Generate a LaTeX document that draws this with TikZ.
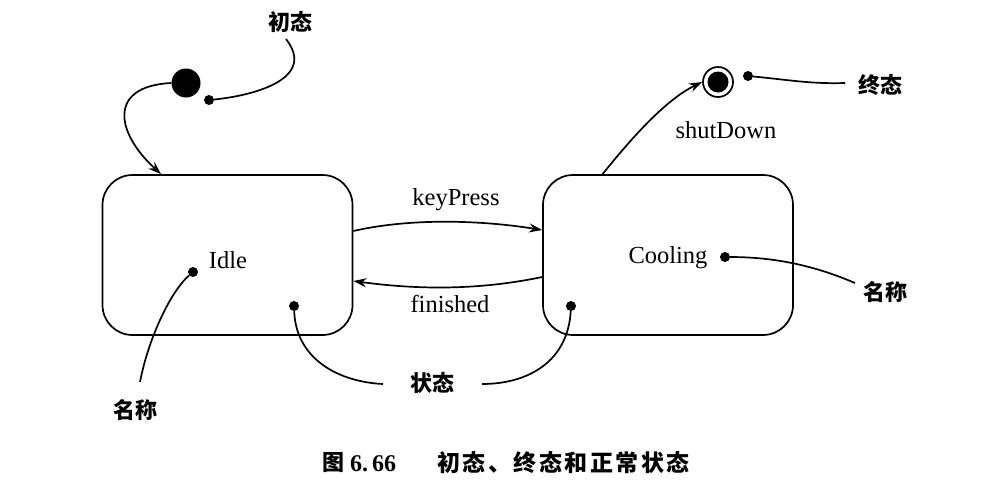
\documentclass[tikz,border=0pt]{standalone}
\usepackage{fontspec}
\setmainfont{Liberation Serif}
\newfontfamily\cjk{Noto Sans CJK SC}
\newfontfamily\cjkcap{Noto Sans CJK SC}[LetterSpace=11]
\usetikzlibrary{arrows.meta,calc}
\tikzset{
  statebox/.style={draw, line width=1.7pt, rounded corners=30pt, minimum width=250pt, minimum height=160pt, inner sep=0pt},
  dotnode/.style={circle, fill, minimum size=10pt, inner sep=0pt},
  nametext/.style={font=\fontsize{24.5}{26}\selectfont, inner sep=0pt},
  cnlabel/.style={font=\cjk\bfseries\fontsize{22}{24}\selectfont, inner sep=2pt},
  conn/.style={line width=1.7pt},
  trans/.style={line width=1.7pt, -{Stealth[length=13pt,width=9pt]}}
}
\begin{document}
\begin{tikzpicture}[x=1pt,y=-1pt]
\useasboundingbox[fill=white] (0,0) rectangle (1008,499);

% states
\node[statebox] (idle) at (227.5,255) {};
\node[statebox] (cool) at (668,255) {};
\node[nametext] (idlename) at (228,260) {Idle};
\node[nametext] (coolname) at (668,258) {Cooling};

% initial and final
\node[circle, fill, minimum size=29pt, inner sep=0pt] (init) at (186,83) {};
\node[circle, draw, line width=1.7pt, minimum size=30pt, inner sep=0pt] (final) at (718,82) {};
\node[circle, fill, minimum size=21pt, inner sep=0pt] (finalin) at (final) {};
\node[nametext] (shutname) at (726,130) {shutDown};

% transitions
\draw[trans] (init.west) .. controls (108,86) and (115,132) .. ($(idle.north west)!0.236!(idle.north east)$);
\draw[trans] (idle.east |- 0,231) .. controls (410,218) and (480,220) .. (cool.west |- 0,230);
\draw[trans] (cool.west |- 0,277) .. controls (480,290) and (420,290) .. (idle.east |- 0,281);
\draw[trans] ($(cool.north west)!0.24!(cool.north east)$) .. controls (630,140) and (665,100) .. (final.west);
\node[nametext] (kp) at (456,200) {keyPress};
\node[nametext] (fin) at (450,304) {finished};

% annotation labels
\node[cnlabel] (lchu) at (290,22) {初态};
\node[cnlabel] (lzhong) at (880,85) {终态};
\node[cnlabel] (lname1) at (135,410) {名称};
\node[cnlabel] (lname2) at (885,292) {名称};
\node[cnlabel] (lstate) at (432,383) {状态};

% dots
\node[dotnode] (d1) at (209,100) {};
\node[dotnode] (d2) at (748,76) {};
\node[dotnode] (d3) at (193,272) {};
\node[dotnode] (d4) at (294,306) {};
\node[dotnode] (d5) at (571,306) {};
\node[dotnode] (d6) at (725,257) {};

% free ends
\coordinate (e1) at (286,39);
\coordinate (e2) at (845,83);
\coordinate (e3) at (140,382);
\coordinate (e4) at (383,384);
\coordinate (e5) at (482,384);
\coordinate (e6) at (855,283);

\draw[conn] (d1) .. controls (250,96) and (318,80) .. (e1);
\draw[conn] (d2) .. controls (790,80) and (810,84) .. (e2);
\draw[conn] (d3) .. controls (170,292) and (148,340) .. (e3);
\draw[conn] (d4) .. controls (296,360) and (340,382) .. (e4);
\draw[conn] (d5) .. controls (568,360) and (530,384) .. (e5);
\draw[conn] (d6) .. controls (780,257) and (820,268) .. (e6);

% caption
\node[font=\cjk\bfseries\fontsize{22}{24}\selectfont, inner sep=0pt] (fig) at (333,463) {图};
\node[font=\bfseries\fontsize{24}{26}\selectfont, inner sep=0pt, anchor=west] (num) at (350,464) {6.\,66};
\node[font=\cjkcap\bfseries\fontsize{23}{25}\selectfont, inner sep=0pt, anchor=west] (cap) at (437,463) {初态、终态和正常状态};
\end{tikzpicture}
\end{document}
